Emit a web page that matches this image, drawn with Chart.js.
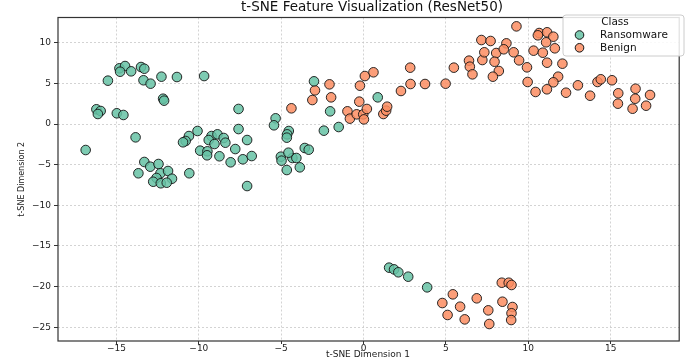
<!DOCTYPE html>
<html>
<head>
<meta charset="utf-8">
<script src="https://cdn.jsdelivr.net/npm/chart.js@4"></script>
<style>
  html, body { margin: 0; padding: 0; background: #fff; }
  #wrap { width: 685px; height: 358px; }
</style>
</head>
<body>
<div id="wrap"><canvas id="myChart" width="685" height="358"></canvas></div>
<script>
// t-SNE coordinates
const ransomwareX = [-14.82, -14.48, -14.78, -14.11, -13.51, -13.31, -15.52, -13.36, -12.93, -12.27, -11.33, -9.68,
    -12.17, -12.11, -16.22, -15.96, -16.13, -14.98, -14.58, -7.59, -5.34, -5.44, -13.84, -16.87,
    -10.08, -10.60, -10.80, -10.96, -9.23, -8.87, -8.49, -9.40, -9.05, -8.39, -7.59, -7.07,
    -9.92, -9.48, -9.50, -8.75, -7.79, -8.07, -7.33, -6.79, -5.02, -4.98, -4.66,
    -13.31, -12.95, -12.45, -13.67, -12.33, -11.87, -12.57, -11.63, -12.77, -12.31, -11.95, -10.58, -7.07,
    -3.01, -2.03, 0.86, -2.41, -1.51, -4.54, -4.64, -4.66, -3.57, -3.33, -4.32, -4.08, -4.56, -3.87,
    1.55, 1.85, 2.11, 2.71, 3.86];
const ransomwareY = [6.85, 7.13, 6.43, 6.48, 7.01, 6.80, 5.33, 5.38, 4.96, 5.82, 5.78, 5.90,
    3.11, 2.87, 1.81, 1.60, 1.23, 1.32, 1.11, 1.85, 0.70, -0.16, -1.64, -3.20,
    -0.86, -1.48, -2.09, -2.25, -1.48, -1.27, -1.72, -1.97, -2.46, -2.30, -0.62, -1.97,
    -3.28, -3.36, -3.85, -3.97, -3.08, -4.71, -4.34, -3.94, -4.02, -4.51, -5.66,
    -4.67, -5.25, -4.92, -6.06, -6.06, -5.78, -6.64, -6.73, -7.10, -7.29, -7.22, -6.06, -7.63,
    5.25, 1.56, 3.28, -0.82, -0.37, -0.86, -1.27, -1.68, -2.95, -3.16, -4.18, -4.18, -3.53, -5.33,
    -17.67, -17.88, -18.24, -18.78, -20.09];

const benignX = [-4.38, -3.11, -2.95, -2.07, -1.97, -0.98, -0.83, -0.42, -0.02, 0.02, 0.20, -0.26, -0.22, 0.08, 0.60,
    1.20, 1.37, 1.43, 2.27, 2.85, 2.83, 3.73, 4.98, 5.48, 6.40, 6.45, 6.61, 7.21, 7.15, 7.71, 7.33, 8.05, 7.95, 8.21, 7.85,
    9.28, 10.66, 11.14, 10.58, 11.52, 11.08, 8.67, 11.61, 8.51, 9.11, 10.32, 10.88, 9.44, 9.92, 11.14, 12.07,
    11.81, 11.52, 9.96, 11.13, 10.44, 12.29, 13.01, 13.75, 14.20, 14.40, 15.08, 15.46, 15.44, 16.51, 16.49, 16.33, 17.15, 17.39,
    8.39, 8.81, 8.98, 5.42, 4.78, 6.87, 5.86, 8.43, 9.04, 7.57, 8.98, 5.10, 6.14, 8.96, 7.63];
const benignY = [1.93, 2.95, 4.14, 4.88, 3.28, 1.56, 0.66, 1.19, 1.19, 0.57, 1.85, 2.75, 4.71, 5.90, 6.36,
    1.23, 1.64, 2.13, 4.06, 4.92, 6.93, 4.92, 4.96, 6.93, 7.79, 7.05, 6.11, 7.87, 10.33, 10.21, 8.82, 8.73, 7.66, 6.52, 5.82,
    12.01, 11.19, 11.28, 10.91, 10.74, 10.05, 9.92, 9.31, 9.19, 8.82, 9.02, 8.77, 7.83, 6.97, 7.54, 7.42,
    5.82, 5.13, 5.17, 4.27, 3.94, 3.85, 4.76, 3.48, 5.17, 5.50, 5.38, 3.78, 2.50, 4.34, 3.11, 1.88, 2.25, 3.57,
    -19.52, -19.52, -19.80, -20.95, -22.02, -21.44, -22.47, -21.86, -22.51, -22.92, -23.28, -23.49, -24.03, -24.11, -24.60];

const classNames = ['Ransomware', 'Benign'];
const chartTitle = 't-SNE Feature Visualization (ResNet50)';
const xLabel = 't-SNE Dimension 1';
const yLabel = 't-SNE Dimension 2';

const FONT = "'DejaVu Sans', sans-serif";
const greenFill = 'rgba(102, 194, 165, 0.85)';
const orangeFill = 'rgba(252, 141, 98, 0.85)';

function toPoints(xs, ys) {
    return xs.map((x, i) => ({ x: x, y: ys[i] }));
}

function tickText(v) {
    return v < 0 ? '\u2212' + Math.abs(v) : String(v);
}

// frame, title, x label and legend drawn by hand (matplotlib look)
const decorPlugin = {
    id: 'decor',
    afterDraw(chart) {
        const c = chart.ctx;
        const a = chart.chartArea;
        c.save();
        c.strokeStyle = '#333';
        c.lineWidth = 1.2;
        c.strokeRect(a.left, a.top, a.right - a.left, a.bottom - a.top);

        c.fillStyle = '#111';
        c.font = '13.5px ' + FONT;
        c.textAlign = 'center';
        c.textBaseline = 'middle';
        c.fillText(chartTitle, 372, 7);

        c.font = '9px ' + FONT;
        c.fillStyle = '#222';
        c.fillText(xLabel, 368, 355);

        // legend box
        const lx = 563, ly = 15, lw = 121, lh = 41;
        c.fillStyle = 'rgba(255,255,255,0.85)';
        c.strokeStyle = '#cccccc';
        c.lineWidth = 1;
        c.beginPath();
        c.roundRect(lx, ly, lw, lh, 3);
        c.fill();
        c.stroke();

        c.fillStyle = '#111';
        c.font = '10.5px ' + FONT;
        c.textAlign = 'center';
        c.fillText('Class', 615, 22);
        const fills = [greenFill, orangeFill];
        classNames.forEach((name, i) => {
            const yy = 35 + i * 12.8;
            c.beginPath();
            c.arc(579.5, yy, 4.3, 0, Math.PI * 2);
            c.fillStyle = fills[i];
            c.fill();
            c.strokeStyle = '#111';
            c.lineWidth = 1;
            c.stroke();
            c.fillStyle = '#111';
            c.textAlign = 'left';
            c.fillText(name, 600, yy);
        });
        c.restore();
    }
};

const ctx = document.getElementById('myChart').getContext('2d');
const myChart = new Chart(ctx, {
    type: 'scatter',
    data: {
        datasets: [
            {
                label: classNames[0],
                data: toPoints(ransomwareX, ransomwareY),
                backgroundColor: greenFill,
                borderColor: 'rgba(20,20,20,0.9)',
                borderWidth: 1,
                pointRadius: 4.8
            },
            {
                label: classNames[1],
                data: toPoints(benignX, benignY),
                backgroundColor: orangeFill,
                borderColor: 'rgba(20,20,20,0.9)',
                borderWidth: 1,
                pointRadius: 4.8
            }
        ]
    },
    options: {
        responsive: false,
        animation: false,
        events: [],
        layout: { padding: { top: 17.5, right: 1, bottom: 0, left: 0 } },
        plugins: {
            legend: { display: false },
            title: { display: false },
            tooltip: { enabled: false }
        },
        scales: {
            x: {
                type: 'linear',
                min: -18.55,
                max: 19.16,
                afterFit: scale => { scale.height = 17; },
                ticks: {
                    stepSize: 5,
                    includeBounds: false,
                    padding: -1,
                    color: '#222',
                    font: { family: FONT, size: 9 },
                    maxRotation: 0,
                    callback: v => tickText(v)
                },
                grid: { color: '#c8c8c8', lineWidth: 0.8, tickLength: 3, tickColor: '#333', tickWidth: 1, tickBorderDash: [] },
                border: { display: false, dash: [2, 2] }
            },
            y: {
                type: 'linear',
                min: -26.69,
                max: 13.1,
                afterFit: scale => { scale.width = 58; },
                ticks: {
                    stepSize: 5,
                    includeBounds: false,
                    padding: 3,
                    color: '#222',
                    font: { family: FONT, size: 9 },
                    callback: v => tickText(v)
                },
                grid: { color: '#c8c8c8', lineWidth: 0.8, tickLength: 4, tickColor: '#333', tickWidth: 1, tickBorderDash: [] },
                border: { display: false, dash: [2, 2] },
                title: {
                    display: true,
                    text: yLabel,
                    color: '#222',
                    font: { family: FONT, size: 8 },
                    padding: { top: 17, bottom: 0 }
                }
            }
        }
    },
    plugins: [decorPlugin]
});
</script>
</body>
</html>
